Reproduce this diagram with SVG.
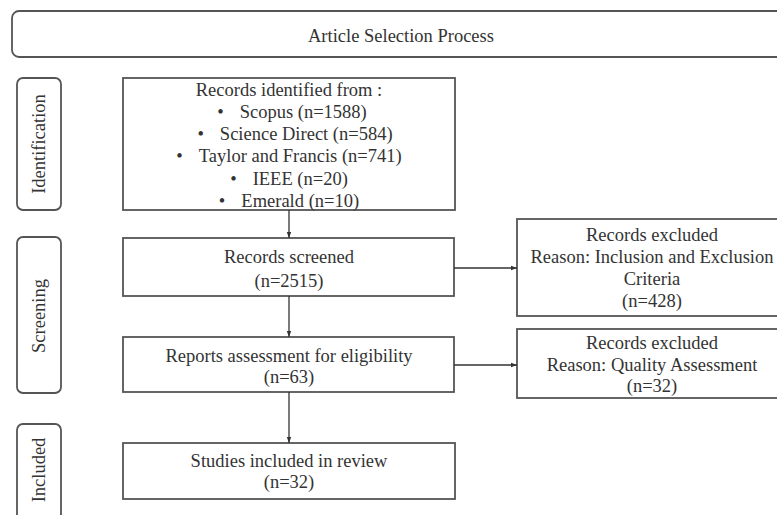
<svg xmlns="http://www.w3.org/2000/svg" width="777" height="515" viewBox="0 0 777 515">
<style>
.box{fill:#fff;stroke:#555;stroke-width:1.8}
.lbl{fill:#fff;stroke:#555;stroke-width:1.8}
text{font-family:"Liberation Serif","Times New Roman",serif;font-size:18.5px;fill:#333;text-anchor:middle}
.con{stroke:#333;stroke-width:1.3;fill:none;marker-end:url(#ah)}
</style>
<defs>
<marker id="ah" viewBox="0 0 6 6" refX="6" refY="3" markerWidth="6" markerHeight="6" markerUnits="userSpaceOnUse" orient="auto">
<path d="M0,0.8 L6,3 L0,5.2 Z" fill="#333"/>
</marker>
</defs>
<rect width="777" height="515" fill="#fff"/>

<g id="title">
<rect class="lbl" x="12" y="11" width="778" height="46" rx="7"/>
<text x="401" y="42">Article Selection Process</text>
</g>

<g id="lbl-identification">
<rect class="lbl" x="17" y="78" width="44" height="132" rx="6"/>
<text transform="translate(45,144) rotate(-90)">Identification</text>
</g>
<g id="lbl-screening">
<rect class="lbl" x="17" y="237" width="44" height="156" rx="6"/>
<text transform="translate(45,316) rotate(-90)">Screening</text>
</g>
<g id="lbl-included">
<rect class="lbl" x="17" y="424" width="44" height="100" rx="6"/>
<text transform="translate(45,470) rotate(-90)">Included</text>
</g>

<g id="identified">
<rect class="box" x="123" y="78" width="332" height="132"/>
<text x="289" y="96">Records identified from :</text>
<text x="292" y="118"><tspan>•</tspan><tspan dx="16">Scopus  (n=1588)</tspan></text>
<text x="295" y="140"><tspan>•</tspan><tspan dx="16">Science Direct (n=584)</tspan></text>
<text x="289" y="162"><tspan>•</tspan><tspan dx="16">Taylor and Francis (n=741)</tspan></text>
<text x="289" y="185"><tspan>•</tspan><tspan dx="16">IEEE (n=20)</tspan></text>
<text x="289" y="207"><tspan>•</tspan><tspan dx="16">Emerald (n=10)</tspan></text>
</g>

<g id="screened">
<rect class="box" x="123" y="238" width="331" height="58"/>
<text x="289" y="263">Records screened</text>
<text x="289" y="287">(n=2515)</text>
</g>

<g id="assessed">
<rect class="box" x="123" y="337" width="331" height="55"/>
<text x="289" y="362">Reports assessment for eligibility</text>
<text x="289" y="383">(n=63)</text>
</g>

<g id="included">
<rect class="box" x="123" y="443" width="332" height="56"/>
<text x="289" y="467">Studies included in review</text>
<text x="289" y="488">(n=32)</text>
</g>

<g id="excluded1">
<rect class="box" x="517" y="219" width="273" height="97"/>
<text x="652" y="241">Records excluded</text>
<text x="652" y="263">Reason: Inclusion and Exclusion</text>
<text x="652" y="285">Criteria</text>
<text x="652" y="307">(n=428)</text>
</g>

<g id="excluded2">
<rect class="box" x="517" y="329" width="273" height="69"/>
<text x="652" y="349">Records excluded</text>
<text x="652" y="371">Reason: Quality Assessment</text>
<text x="652" y="392">(n=32)</text>
</g>

<g id="connectors">
<line class="con" x1="289" y1="210" x2="289" y2="238"/>
<line class="con" x1="289" y1="296" x2="289" y2="337"/>
<line class="con" x1="289" y1="392" x2="289" y2="443"/>
<line class="con" x1="454" y1="268" x2="517" y2="268"/>
<line class="con" x1="454" y1="365" x2="517" y2="365"/>
</g>
</svg>
